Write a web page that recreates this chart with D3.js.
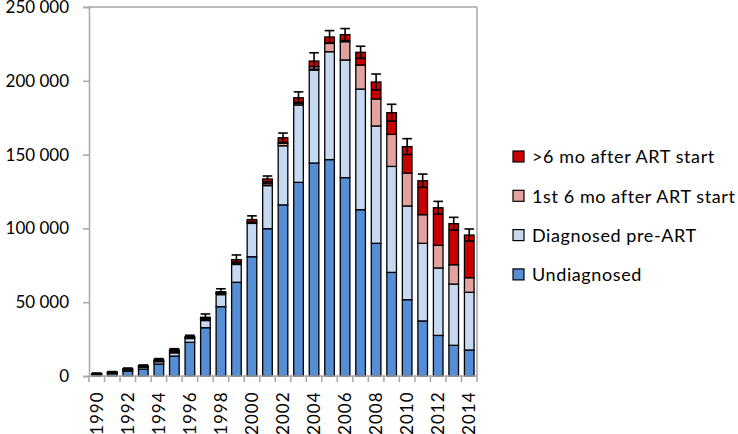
<!DOCTYPE html>
<html><head><meta charset="utf-8">
<script src="https://cdn.jsdelivr.net/npm/d3@7"></script>
<style>
html,body{margin:0;padding:0;background:#fff;}
text{font-family:Lato,"Liberation Sans",sans-serif;fill:#000;}
</style></head>
<body>
<svg id="chart" width="738" height="434"></svg>
<script>
const years = [1990,1991,1992,1993,1994,1995,1996,1997,1998,1999,2000,2001,2002,2003,2004,2005,2006,2007,2008,2009,2010,2011,2012,2013,2014];
const undiagnosed = [1000,1600,3200,4700,8100,13500,22800,32700,47000,63500,80800,99800,115900,131200,144300,146600,134400,112700,89900,70200,51700,37300,27500,20800,17600];
const diagnosedPreART = [400,600,1000,1300,1600,2200,2600,5700,8800,12800,22600,29200,40100,52400,63000,73100,79700,81700,79500,71800,63500,52600,45700,41500,39100];
const first6mo = [100,200,300,400,500,600,500,500,500,800,900,1300,1700,1800,2300,5700,12400,16300,18300,21700,22300,19400,15300,13100,9900];
const after6mo = [200,300,500,600,1000,1500,900,900,800,1700,1700,3200,3700,3100,3800,4300,4800,8600,11500,14700,17900,23000,25500,27800,28900];
const errors = [300,300,400,500,600,700,800,2200,2000,3200,2500,2000,3200,4000,5600,4300,4100,4100,5400,5700,5400,4500,4300,4300,4100];
const yTicks = [0,50000,100000,150000,200000,250000];
const seriesNames = ["Undiagnosed","Diagnosed pre-ART","1st 6 mo after ART start",">6 mo after ART start"];
const seriesColors = ["#558ed5","#c6d9f0","#e3a1a0","#c80000"];

const svg = d3.select("#chart");
const L = 89, R = 477, T = 7, B = 376;

const x = d3.scaleBand().domain(years).range([L, R]).paddingInner(0.38).paddingOuter(0.19);
const y = d3.scaleLinear().domain([0, 250000]).range([B, T]);

const rows = years.map((yr, i) => ({year: yr, s0: undiagnosed[i], s1: diagnosedPreART[i], s2: first6mo[i], s3: after6mo[i], err: errors[i]}));
const stack = d3.stack().keys(["s0","s1","s2","s3"])(rows);

// frame
svg.append("line").attr("x1", L).attr("x2", R).attr("y1", T).attr("y2", T).attr("stroke", "#a6a6a6").attr("stroke-width", 1.5);
svg.append("line").attr("x1", R).attr("x2", R).attr("y1", T).attr("y2", B).attr("stroke", "#a6a6a6").attr("stroke-width", 1.5);

// y axis
const yAxis = svg.append("g").attr("transform", `translate(${L},0)`)
  .call(d3.axisLeft(y).tickValues(yTicks).tickSize(6).tickPadding(14)
    .tickFormat(d => d3.format(",")(d).replace(/,/g, "\u2009\u2009")));
yAxis.select(".domain").attr("stroke", "#a6a6a6").attr("stroke-width", 1.5);
yAxis.selectAll(".tick line").attr("stroke", "#a6a6a6").attr("stroke-width", 1.5);
yAxis.selectAll(".tick text").style("font-size", "17px").style("font-family", "Lato, 'Liberation Sans', sans-serif").attr("fill", "#000");

// bars
svg.append("g").selectAll("g").data(stack).join("g")
  .attr("fill", (d, i) => seriesColors[i])
  .selectAll("rect").data(d => d).join("rect")
  .attr("x", d => x(d.data.year))
  .attr("width", x.bandwidth())
  .attr("y", d => y(d[1]))
  .attr("height", d => y(d[0]) - y(d[1]))
  .attr("stroke", "#000").attr("stroke-width", 1.3);

// error bars
const eg = svg.append("g").attr("stroke", "#000").attr("stroke-width", 1.6);
rows.forEach(r => {
  const tot = r.s0 + r.s1 + r.s2 + r.s3;
  const cx = x(r.year) + x.bandwidth() / 2;
  const hw = x.bandwidth() / 2;
  eg.append("line").attr("x1", cx).attr("x2", cx).attr("y1", y(tot + r.err)).attr("y2", y(tot - r.err));
  eg.append("line").attr("x1", cx - hw).attr("x2", cx + hw).attr("y1", y(tot + r.err)).attr("y2", y(tot + r.err));
  eg.append("line").attr("x1", cx - hw).attr("x2", cx + hw).attr("y1", y(tot - r.err)).attr("y2", y(tot - r.err));
});

// x axis
const step = x.step();
const xg = svg.append("g");
xg.append("line").attr("x1", L).attr("x2", R).attr("y1", B).attr("y2", B).attr("stroke", "#a6a6a6").attr("stroke-width", 1.5);
d3.range(years.length + 1).forEach(i => {
  const xx = L + i * step;
  xg.append("line").attr("x1", xx).attr("x2", xx).attr("y1", B).attr("y2", B + 6).attr("stroke", "#a6a6a6").attr("stroke-width", 1.5);
});
xg.selectAll("text").data(years.filter(d => d % 2 === 0)).join("text")
  .attr("transform", d => `translate(${x(d) + x.bandwidth() / 2},391.5) rotate(-90)`)
  .attr("text-anchor", "end").attr("dy", "0.36em")
  .style("font-size", "17px").style("letter-spacing", "1px")
  .text(d => d);

// legend
const legendOrder = [3, 2, 1, 0];
const lg = svg.append("g");
legendOrder.forEach((si, k) => {
  const cy = 157 + k * 39.3;
  lg.append("rect").attr("x", 513).attr("y", cy - 6).attr("width", 11).attr("height", 11)
    .attr("fill", seriesColors[si]).attr("stroke", "#000").attr("stroke-width", 1.2);
  lg.append("text").attr("x", 532).attr("y", cy).attr("dy", "0.36em")
    .style("font-size", "18px").style("letter-spacing", "0.6px").text(seriesNames[si]);
});
</script>
</body></html>
